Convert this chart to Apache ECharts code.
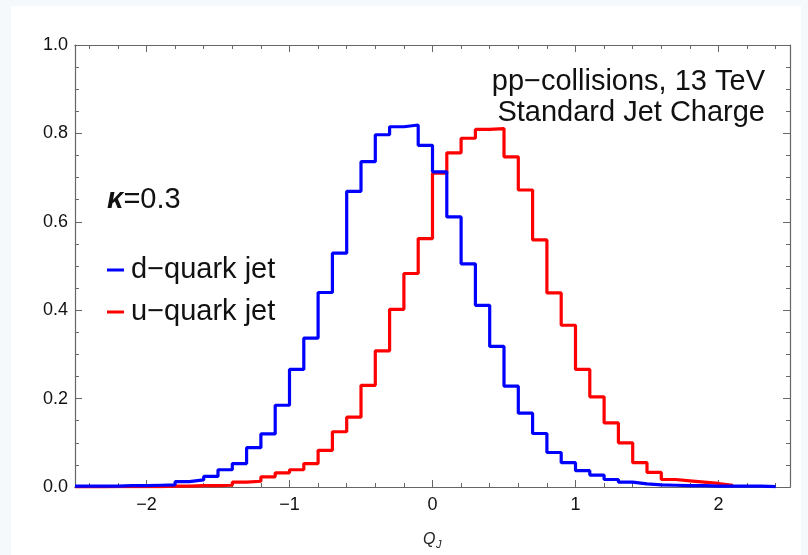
<!DOCTYPE html>
<html>
<head>
<meta charset="utf-8">
<script src="https://cdn.jsdelivr.net/npm/echarts@6/dist/echarts.min.js"></script>
<style>
html,body{margin:0;padding:0;background:#f5f9fb;}
#chart{width:808px;height:555px;}
</style>
</head>
<body>
<div id="chart"></div>
<script>
// ---- data ----
const binStart = -2.5;
const binWidth = 0.1;
// d-quark jet histogram heights, bins from -2.5 in steps of 0.1
const dQuark = [
  0.002, 0.002, 0.002, 0.003, 0.003,
  0.004, 0.005, 0.012, 0.016, 0.024, 0.039, 0.053, 0.089, 0.120, 0.185,
  0.266, 0.337, 0.440, 0.529, 0.669, 0.736, 0.797, 0.815, 0.819, 0.773,
  0.713, 0.611, 0.505, 0.411, 0.318, 0.228, 0.167, 0.121, 0.078, 0.055,
  0.037, 0.027, 0.017, 0.011, 0.007, 0.005, 0.004, 0.003, 0.003, 0.002,
  0.002, 0.002, 0.002, 0.001
];
// u-quark jet histogram heights, bins from -2.5 in steps of 0.1
const uQuark = [
  0.0005, 0.0005, 0.001, 0.001, 0.001,
  0.001, 0.002, 0.002, 0.003, 0.003, 0.004, 0.011, 0.013, 0.023, 0.032,
  0.039, 0.053, 0.083, 0.125, 0.158, 0.230, 0.308, 0.402, 0.483, 0.562,
  0.710, 0.756, 0.789, 0.809, 0.811, 0.747, 0.672, 0.559, 0.439, 0.366,
  0.266, 0.204, 0.145, 0.100, 0.055, 0.033, 0.017, 0.014, 0.011, 0.008,
  0.004
];
const xMajorTicks = [-2, -1, 0, 1, 2];
const xMinorTicks = [-2.4, -2.2, -1.8, -1.6, -1.4, -1.2, -0.8, -0.6, -0.4, -0.2,
                     0.2, 0.4, 0.6, 0.8, 1.2, 1.4, 1.6, 1.8, 2.2, 2.4];
const seriesNames = ['d\u2212quark jet', 'u\u2212quark jet'];

// ---- build ----
function stepData(start, width, vals) {
  const d = vals.map((v, i) => [+(start + i * width).toFixed(3), v]);
  d.push([+(start + vals.length * width).toFixed(3), vals[vals.length - 1]]);
  return d;
}
const FONT = '"Liberation Sans", Arial, sans-serif';
const frameColor = '#666';
const chart = echarts.init(document.getElementById('chart'));

function xAx(pos, ticks, len, labels) {
  return {
    type: 'value', position: pos, min: -2.5, max: 2.5, gridIndex: 0,
    axisLine: { show: true, onZero: false, lineStyle: { color: frameColor, width: 1.2 } },
    axisTick: { show: true, inside: true, length: len, customValues: ticks, lineStyle: { color: frameColor, width: 1 } },
    axisLabel: labels ? {
      show: true, customValues: xMajorTicks, margin: 9, fontSize: 18, color: '#111', fontFamily: FONT,
      formatter: v => String(v).replace('-', '\u2212')
    } : { show: false },
    splitLine: { show: false }, minorTick: { show: false }
  };
}
function yAx(pos, labels) {
  return {
    type: 'value', position: pos, min: 0, max: 1, interval: 0.2, gridIndex: 0,
    axisLine: { show: true, onZero: false, lineStyle: { color: frameColor, width: 1.2 } },
    axisTick: { show: true, inside: true, length: 7, lineStyle: { color: frameColor, width: 1 } },
    minorTick: { show: true, splitNumber: 4, length: 4, lineStyle: { color: frameColor, width: 1 } },
    axisLabel: labels ? { show: true, margin: 7, fontSize: 18, color: '#111', fontFamily: FONT,
      formatter: v => v.toFixed(1) } : { show: false },
    splitLine: { show: false }
  };
}

const BIG = '29px ' + FONT;
const option = {
  backgroundColor: '#f5f9fb',
  animation: false,
  grid: { left: 75, right: 18, top: 45, bottom: 68, containLabel: false },
  xAxis: [
    xAx('bottom', xMajorTicks, 7, true),
    xAx('bottom', xMinorTicks, 4, false),
    xAx('top', xMajorTicks, 7, false),
    xAx('top', xMinorTicks, 4, false)
  ],
  yAxis: [yAx('left', true), yAx('right', false)],
  graphic: [
    { type: 'rect', z: -100, silent: true, shape: { x: 11, y: 6, width: 790, height: 549 }, style: { fill: '#ffffff' } },
    { type: 'text', x: 765, y: 82, style: { text: 'pp\u2212collisions, 13 TeV', font: BIG, fill: '#111', textAlign: 'right', textVerticalAlign: 'middle' } },
    { type: 'text', x: 765, y: 113, style: { text: 'Standard Jet Charge', font: BIG, fill: '#111', textAlign: 'right', textVerticalAlign: 'middle' } },
    { type: 'text', x: 107, y: 200, style: {
        text: '{k|\u03ba}{r|=0.3}', textVerticalAlign: 'middle',
        rich: { k: { font: 'italic bold 29px ' + FONT, fill: '#111' }, r: { font: BIG, fill: '#111' } } } },
    { type: 'line', shape: { x1: 107, y1: 270, x2: 124, y2: 270 }, style: { stroke: '#0000ff', lineWidth: 3 } },
    { type: 'text', x: 131, y: 270, style: { text: seriesNames[0], font: BIG, fill: '#111', textVerticalAlign: 'middle' } },
    { type: 'line', shape: { x1: 107, y1: 312, x2: 124, y2: 312 }, style: { stroke: '#ff0000', lineWidth: 3 } },
    { type: 'text', x: 131, y: 312, style: { text: seriesNames[1], font: BIG, fill: '#111', textVerticalAlign: 'middle' } },
    { type: 'text', x: 423, y: 540, style: { text: 'Q', font: 'italic 16px ' + FONT, fill: '#222', textVerticalAlign: 'middle' } },
    { type: 'text', x: 436, y: 545, style: { text: 'J', font: 'italic 11px ' + FONT, fill: '#222', textVerticalAlign: 'middle' } }
  ],
  series: [
    { name: seriesNames[1], type: 'line', step: 'end', symbol: 'none', xAxisIndex: 0, yAxisIndex: 0,
      data: stepData(binStart, binWidth, uQuark), lineStyle: { color: '#ff0000', width: 3.2 }, itemStyle: { color: '#ff0000' }, z: 3 },
    { name: seriesNames[0], type: 'line', step: 'end', symbol: 'none', xAxisIndex: 0, yAxisIndex: 0,
      data: stepData(binStart, binWidth, dQuark), lineStyle: { color: '#0000ff', width: 3.2 }, itemStyle: { color: '#0000ff' }, z: 4 }
  ]
};
chart.setOption(option);
</script>
</body>
</html>
